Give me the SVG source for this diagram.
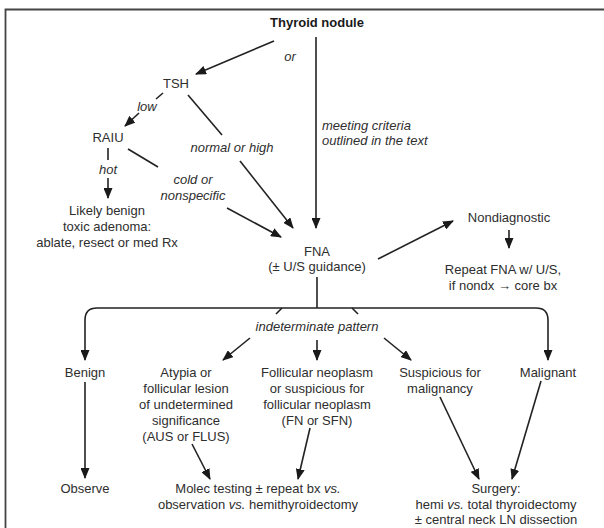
<svg xmlns="http://www.w3.org/2000/svg" width="604" height="528" viewBox="0 0 604 528">
  <style>
    text { font-family: "Liberation Sans", Arial, sans-serif; font-size: 13px; fill: #2e2e2e; text-anchor: middle; }
    .b { font-weight: bold; fill: #1a1a1a; }
    .i { font-style: italic; }
    .l { text-anchor: start; }
    .c { fill: none; stroke: #222; stroke-width: 1.6; }
    .a { marker-end: url(#arrow); }
  </style>
  <defs>
    <marker id="arrow" markerUnits="userSpaceOnUse" markerWidth="11" markerHeight="9" refX="10" refY="4.5" orient="auto">
      <path d="M0,0 L11,4.5 L0,9 z" fill="#1a1a1a"/>
    </marker>
  </defs>

  <rect width="604" height="528" fill="#ffffff"/>
  <!-- frame -->
  <path d="M5.5,528 V9.5 H604" fill="none" stroke="#444" stroke-width="1.8"/>

  <g id="connectors">
    <path class="c a" d="M274,41 L196,74"/>
    <path class="c a" d="M316,37 V228"/>
    <path class="c" d="M163,93 L156,99"/>
    <path class="c a" d="M139,113 L125,126"/>
    <path class="c" d="M108,148 V160"/>
    <path class="c a" d="M108,178 V198"/>
    <path class="c" d="M188,95 L222,135"/>
    <path class="c a" d="M240,161 L293,228"/>
    <path class="c" d="M128,149 L158,167"/>
    <path class="c a" d="M227,208 L281,237"/>
    <path class="c a" d="M378,259 L453,221"/>
    <path class="c a" d="M509,230 V248"/>
    <path class="c" d="M317,277 V308"/>
    <path class="c a" d="M317,308 H97 Q85,308 85,320 V360"/>
    <path class="c a" d="M317,308 H536 Q548,308 548,320 V360"/>
    <path class="c" d="M282,308 L276,314"/>
    <path class="c" d="M352,308 L358,314"/>
    <path class="c a" d="M250,338 L223,360"/>
    <path class="c a" d="M317,340 V360"/>
    <path class="c a" d="M384,338 L411,360"/>
    <path class="c a" d="M85,382 V478"/>
    <path class="c a" d="M192,444 L210,479"/>
    <path class="c a" d="M310,428 L298,479"/>
    <path class="c a" d="M440,397 L479,479"/>
    <path class="c a" d="M541,381 L512,479"/>
  </g>

  <g id="edge-labels">
    <text class="i" x="290" y="61">or</text>
    <text class="i" x="147" y="111">low</text>
    <text class="i" x="108" y="174">hot</text>
    <text class="i" x="232" y="152">normal or high</text>
    <text class="i" x="193" y="184">cold or</text>
    <text class="i" x="193" y="200">nonspecific</text>
    <text class="i l" x="322" y="130">meeting criteria</text>
    <text class="i l" x="322" y="145">outlined in the text</text>
    <text class="i" x="317" y="331">indeterminate pattern</text>
  </g>

  <g id="thyroid-nodule"><text class="b" x="317" y="27">Thyroid nodule</text></g>
  <g id="tsh"><text x="176" y="88">TSH</text></g>
  <g id="raiu"><text x="108" y="142">RAIU</text></g>
  <g id="toxic-adenoma">
    <text x="107" y="215">Likely benign</text>
    <text x="107" y="231">toxic adenoma:</text>
    <text x="107" y="247">ablate, resect or med Rx</text>
  </g>
  <g id="fna">
    <text x="317" y="256">FNA</text>
    <text x="317" y="271">(± U/S guidance)</text>
  </g>
  <g id="nondiagnostic"><text x="509" y="222">Nondiagnostic</text></g>
  <g id="repeat-fna">
    <text x="503" y="274">Repeat FNA w/ U/S,</text>
    <text x="503" y="290">if nondx → core bx</text>
  </g>
  <g id="benign"><text x="85" y="377">Benign</text></g>
  <g id="aus-flus">
    <text x="186" y="377">Atypia or</text>
    <text x="186" y="393">follicular lesion</text>
    <text x="186" y="409">of undetermined</text>
    <text x="186" y="425">significance</text>
    <text x="186" y="441">(AUS or FLUS)</text>
  </g>
  <g id="fn-sfn">
    <text x="317" y="377">Follicular neoplasm</text>
    <text x="317" y="393">or suspicious for</text>
    <text x="317" y="409">follicular neoplasm</text>
    <text x="317" y="425">(FN or SFN)</text>
  </g>
  <g id="suspicious">
    <text x="440" y="377">Suspicious for</text>
    <text x="440" y="393">malignancy</text>
  </g>
  <g id="malignant"><text x="548" y="377">Malignant</text></g>
  <g id="observe"><text x="85" y="493">Observe</text></g>
  <g id="molec-testing">
    <text x="258" y="493">Molec testing ± repeat bx <tspan class="i">vs.</tspan></text>
    <text x="258" y="509">observation <tspan class="i">vs.</tspan> hemithyroidectomy</text>
  </g>
  <g id="surgery">
    <text x="496" y="493">Surgery:</text>
    <text x="496" y="509">hemi <tspan class="i">vs.</tspan> total thyroidectomy</text>
    <text x="496" y="524">± central neck LN dissection</text>
  </g>
</svg>
